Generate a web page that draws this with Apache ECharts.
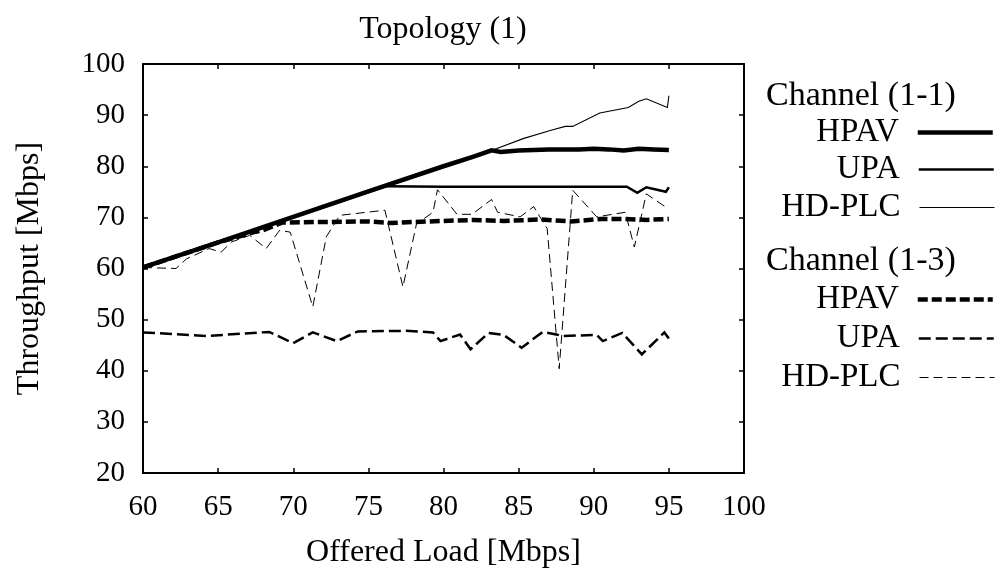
<!DOCTYPE html>
<html>
<head>
<meta charset="utf-8">
<script src="https://cdn.jsdelivr.net/npm/echarts@6/dist/echarts.min.js"></script>
<style>
html,body{margin:0;padding:0;background:#fff;}
#chart{width:997px;height:572px;}
</style>
</head>
<body>
<div id="chart"></div>
<script>
// ---- Data ----
const xTicks = [60, 65, 70, 75, 80, 85, 90, 95, 100];
const yTicks = [20, 30, 40, 50, 60, 70, 80, 90, 100];

// Channel (1-1)
const hpav11X = [60, 65, 70, 75, 80, 82, 83.2, 83.8, 85, 87, 89, 90, 91, 92, 93, 94, 95];
const hpav11Y = [60.2, 65.1, 70.1, 75.1, 80.0, 81.9, 83.1, 82.8, 83.1, 83.3, 83.3, 83.4, 83.3, 83.1, 83.4, 83.3, 83.2];

const upa11X = [60, 76.2, 80, 85, 90, 92.2, 92.9, 93.5, 94.8, 95];
const upa11Y = [60.2, 76.1, 76.0, 76.0, 76.0, 76.0, 74.8, 75.9, 75.0, 75.9];

const hdplc11X = [60, 70, 80, 83.2, 85.3, 87.1, 88.1, 88.6, 90.4, 92.3, 93.0, 93.5, 94.9, 95.0];
const hdplc11Y = [60.2, 70.1, 80.0, 83.1, 85.4, 87.0, 87.8, 87.8, 90.4, 91.5, 92.7, 93.2, 91.5, 93.8];

// Channel (1-3)
const hpav13X = [60, 65, 67.5, 68, 69.3, 72, 75, 76.5, 78, 80, 82, 84, 86.5, 88.5, 90.5, 92, 93.5, 95];
const hpav13Y = [60.2, 65.1, 67.2, 67.5, 69.0, 69.1, 69.2, 68.9, 69.1, 69.3, 69.5, 69.3, 69.6, 69.2, 69.7, 69.7, 69.5, 69.7];

const upa13X = [60, 64.2, 68.4, 70.0, 71.3, 72.9, 74.3, 77.5, 79.3, 79.8, 81.1, 81.8, 83.0, 84.0, 85.2, 86.6, 87.5, 87.9, 90.2, 90.6, 91.9, 93.2, 94.7, 95.0];
const upa13Y = [47.5, 46.8, 47.6, 45.4, 47.5, 45.8, 47.7, 47.8, 47.5, 45.8, 47.1, 44.2, 47.4, 47.0, 44.5, 47.6, 47.1, 46.8, 47.0, 45.8, 47.4, 43.2, 47.5, 46.3];

const hdplc13X = [60, 62.2, 62.9, 64.4, 65.2, 65.9, 67.1, 68.2, 69.1, 69.8, 71.3, 72.2, 73.1, 76.1, 77.3, 78.2, 79.3, 79.6, 80.9, 81.9, 83.2, 83.6, 85.1, 86.0, 86.9, 87.7, 88.6, 90.2, 92.1, 92.7, 93.5, 94.8];
const hdplc13Y = [60.2, 60.0, 61.9, 63.9, 63.2, 65.2, 66.5, 63.9, 67.5, 67.1, 52.5, 66.2, 70.4, 71.4, 56.4, 68.7, 71.0, 75.4, 70.6, 70.6, 73.5, 71.0, 70.1, 72.1, 67.8, 40.4, 75.3, 70.1, 71.0, 64.2, 74.6, 72.0];

const seriesNames = ['HPAV (1-1)', 'UPA (1-1)', 'HD-PLC (1-1)', 'HPAV (1-3)', 'UPA (1-3)', 'HD-PLC (1-3)'];
const groupTitles = ['Channel (1-1)', 'Channel (1-3)'];
const chartTitle = 'Topology (1)';
const xName = 'Offered Load [Mbps]';
const yName = 'Throughput [Mbps]';

// ---- Build ----
const FONT = '"Liberation Serif", "Times New Roman", serif';
function zip(xs, ys) { return xs.map((x, i) => [x, ys[i]]); }
const allX = [hpav11X, upa11X, hdplc11X, hpav13X, upa13X, hdplc13X];
const allY = [hpav11Y, upa11Y, hdplc11Y, hpav13Y, upa13Y, hdplc13Y];
const styles = [
  { width: 4.5, type: 'solid' },
  { width: 2.5, type: 'solid' },
  { width: 1.1, type: 'solid' },
  { width: 4.5, type: [10, 4] },
  { width: 2.5, type: [12, 5] },
  { width: 1.0, type: [9, 5] }
];
const legendCenters = [132, 169, 207, 299, 338, 377];

const series = seriesNames.map((name, i) => ({
  name: name,
  type: 'line',
  xAxisIndex: 0,
  yAxisIndex: 0,
  data: zip(allX[i], allY[i]),
  symbol: 'none',
  showSymbol: false,
  smooth: false,
  lineStyle: { color: '#000', width: styles[i].width, type: styles[i].type, cap: 'butt', join: 'miter' },
  itemStyle: { color: '#000' },
  emphasis: { disabled: true },
  animation: false,
  z: 10 - i
}));

const legends = seriesNames.map((name, i) => ({
  data: [name],
  orient: 'vertical',
  align: 'right',
  right: 2,
  top: legendCenters[i] - 16,
  padding: 0,
  itemWidth: 75,
  itemHeight: 14,
  selectedMode: false,
  formatter: n => n.split(' ')[0],
  textStyle: { fontFamily: FONT, fontSize: 33, color: '#000', lineHeight: 32, padding: [0, 14, 0, 0] },
  itemStyle: { opacity: 0 },
  lineStyle: { width: styles[i].width, type: styles[i].type, color: '#000', cap: 'butt' }
}));

const axisLineStyle = { show: true, onZero: false, lineStyle: { color: '#000', width: 2 } };
const tickStyle = { show: true, inside: true, length: 5, lineStyle: { color: '#000', width: 1.5 } };

const option = {
  backgroundColor: '#fff',
  animation: false,
  title: {
    text: chartTitle,
    left: 443, top: 14, padding: 0,
    textAlign: 'center',
    textStyle: { fontFamily: FONT, fontSize: 32, fontWeight: 'normal', color: '#000', lineHeight: 32 }
  },
  grid: { left: 143, right: 253, top: 64, bottom: 99, containLabel: false, outerBoundsMode: 'none' },
  legend: legends,
  graphic: groupTitles.map((t, i) => ({
    type: 'text', left: 766, top: (i === 0 ? 96 : 261) - 17,
    style: { text: t, font: '34px ' + FONT, fill: '#000' }
  })),
  xAxis: [
    {
      type: 'value', position: 'bottom', min: xTicks[0], max: xTicks[xTicks.length - 1], interval: 5,
      axisLine: axisLineStyle, axisTick: tickStyle, splitLine: { show: false },
      axisLabel: { color: '#000', fontFamily: FONT, fontSize: 29, margin: 20 },
      name: xName, nameLocation: 'middle', nameGap: 64,
      nameTextStyle: { fontFamily: FONT, fontSize: 32, color: '#000' }
    },
    {
      type: 'value', position: 'top', min: xTicks[0], max: xTicks[xTicks.length - 1], interval: 5,
      axisLine: axisLineStyle, axisTick: tickStyle, splitLine: { show: false }, axisLabel: { show: false }
    }
  ],
  yAxis: [
    {
      type: 'value', position: 'left', min: yTicks[0], max: yTicks[yTicks.length - 1], interval: 10,
      axisLine: axisLineStyle, axisTick: tickStyle, splitLine: { show: false },
      axisLabel: { color: '#000', fontFamily: FONT, fontSize: 29, margin: 18 },
      name: yName, nameLocation: 'middle', nameGap: 97, nameRotate: 90,
      nameTextStyle: { fontFamily: FONT, fontSize: 32, color: '#000' }
    },
    {
      type: 'value', position: 'right', min: yTicks[0], max: yTicks[yTicks.length - 1], interval: 10,
      axisLine: axisLineStyle, axisTick: tickStyle, splitLine: { show: false }, axisLabel: { show: false }
    }
  ],
  series: series
};

const chart = echarts.init(document.getElementById('chart'), null, { renderer: 'canvas' });
chart.setOption(option);
</script>
</body>
</html>
